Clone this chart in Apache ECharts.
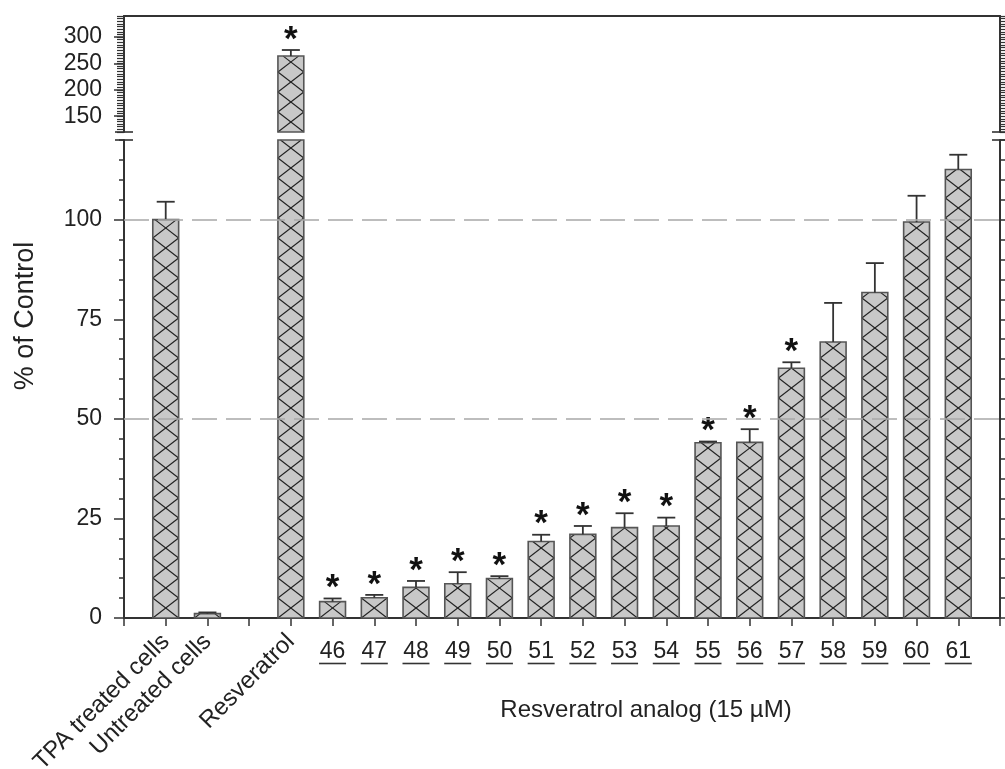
<!DOCTYPE html>
<html>
<head>
<meta charset="utf-8">
<script src="https://cdn.jsdelivr.net/npm/echarts@6/dist/echarts.min.js"></script>
<style>
html,body{margin:0;padding:0;background:#fff;}
#chart{width:1005px;height:769px;}
</style>
</head>
<body>
<div id="chart"></div>
<script>
// ---- data ----
const categories = ['', 'TPA treated cells', 'Untreated cells', '', 'Resveratrol',
  '46','47','48','49','50','51','52','53','54','55','56','57','58','59','60','61', ''];
const values = [null, 100, 1.1, null, 264,
  4.1, 5.1, 7.7, 8.6, 9.9, 19.2, 21.0, 22.7, 23.1, 44.0, 44.1, 62.7, 69.3, 81.7, 99.4, 112.6, null];
const errors = [null, 4.5, 0.3, null, 11.5,
  0.8, 0.7, 1.6, 2.9, 0.6, 1.7, 2.1, 3.6, 2.1, 0.3, 3.3, 1.5, 9.8, 7.4, 6.6, 3.7, null];
const significant = [0, 0, 0, 0, 1,
  1, 1, 1, 1, 1, 1, 1, 1, 1, 1, 1, 1, 0, 0, 0, 0, 0];
const lowerTickLabels = [0, 25, 50, 75, 100];
const upperTickLabels = [150, 200, 250, 300];
const refLines = [50, 100];
const lowerRange = [0, 120];
const upperRange = [120, 340];
const yTitle = '% of Control';
const xTitle = 'Resveratrol analog (15 \u00b5M)';

// ---- style / layout ----
const FONT = '"Liberation Sans", Arial, Helvetica, sans-serif';
const TXT = '#222';
const AX = '#333';
const GRID_LEFT = 124, GRID_RIGHT = 5;
const UP_TOP = 16, UP_H = 116;
const LO_TOP = 140, LO_BOTTOM = 151;
const BAR_RATIO = 0.62;
const HATCH_P = 20;

const seriesData = [];
for (let i = 0; i < categories.length; i++) {
  if (values[i] != null) seriesData.push([i, values[i], errors[i], significant[i]]);
}

function clipSeg(ax, ay, bx, by, vmin, vmax) {
  let t0 = 0, t1 = 1;
  const dv = by - ay;
  if (Math.abs(dv) < 1e-9) {
    if (ay < vmin || ay > vmax) return null;
  } else {
    let ta = (vmin - ay) / dv, tb = (vmax - ay) / dv;
    if (ta > tb) { const t = ta; ta = tb; tb = t; }
    t0 = Math.max(t0, ta); t1 = Math.min(t1, tb);
    if (t0 >= t1) return null;
  }
  return [ax + (bx - ax) * t0, ay + dv * t0, ax + (bx - ax) * t1, ay + dv * t1];
}

function makeRender(yMin, yMax) {
  return function (params, api) {
    const idx = api.value(0), v = api.value(1), e = api.value(2), s = api.value(3);
    if (v == null || isNaN(v) || v <= yMin) return;
    const top = Math.min(v, yMax);
    const pTop = api.coord([idx, top]);
    const pBot = api.coord([idx, yMin]);
    const bw = api.size([1, 0])[0] * BAR_RATIO;
    const cx = pTop[0];
    const x0 = cx - bw / 2;
    const H = pBot[1] - pTop[1];
    const children = [];
    children.push({
      type: 'rect',
      shape: { x: x0, y: pTop[1], width: bw, height: H },
      style: { fill: '#c8c8c8', stroke: 'none' }
    });
    const P = HATCH_P;
    const phase = P / 2;
    for (let k = -1; k * P + phase - P < H + P; k++) {
      const c = k * P + phase;
      for (const sg of [1, -1]) {
        const seg = clipSeg(-bw / 2, c - sg * P / 2, bw / 2, c + sg * P / 2, 0, H);
        if (!seg) continue;
        children.push({
          type: 'line',
          shape: { x1: cx + seg[0], y1: pBot[1] - seg[1], x2: cx + seg[2], y2: pBot[1] - seg[3] },
          style: { stroke: '#222', lineWidth: 1.1 }
        });
      }
    }
    children.push({
      type: 'rect',
      shape: { x: x0, y: pTop[1], width: bw, height: H },
      style: { fill: 'none', stroke: '#555', lineWidth: 1.6 }
    });
    if (v <= yMax && e != null && v + e <= yMax) {
      const pErr = api.coord([idx, v + e]);
      if (pTop[1] - pErr[1] > 0.5) {
        children.push({
          type: 'line',
          shape: { x1: cx, y1: pTop[1], x2: cx, y2: pErr[1] },
          style: { stroke: AX, lineWidth: 1.8 }
        });
      }
      children.push({
        type: 'line',
        shape: { x1: cx - 9, y1: pErr[1], x2: cx + 9, y2: pErr[1] },
        style: { stroke: AX, lineWidth: 1.8 }
      });
      if (s) {
        children.push({
          type: 'text',
          style: {
            text: '*', x: cx, y: pErr[1] - 10, align: 'center', verticalAlign: 'middle',
            font: 'bold 35px ' + FONT, fill: '#111'
          }
        });
      }
    }
    return { type: 'group', children: children };
  };
}

const chart = echarts.init(document.getElementById('chart'), null, { renderer: 'canvas' });

const baseY = (gridIndex, range) => ({
  type: 'value', gridIndex: gridIndex, min: range[0], max: range[1], interval: 5,
  splitLine: { show: false }
});

const option = {
  animation: false,
  backgroundColor: '#fff',
  grid: [
    { left: GRID_LEFT, right: GRID_RIGHT, top: LO_TOP, bottom: LO_BOTTOM, containLabel: false, outerBoundsMode: 'none' },
    { left: GRID_LEFT, right: GRID_RIGHT, top: UP_TOP, height: UP_H, containLabel: false, outerBoundsMode: 'none' }
  ],
  xAxis: [
    {
      type: 'category', gridIndex: 0, data: categories, boundaryGap: false, position: 'bottom',
      axisLine: { show: true, lineStyle: { color: AX, width: 2 } },
      axisTick: { show: true, interval: 0, length: 8, lineStyle: { color: AX, width: 1.5 } },
      axisLabel: {
        interval: 0, rotate: 45, margin: 20, color: TXT, fontFamily: FONT, fontSize: 24,
        formatter: (val) => (/^\d+$/.test(val) ? '' : val)
      },
      splitLine: { show: false }
    },
    {
      type: 'category', gridIndex: 0, data: categories, boundaryGap: false, position: 'bottom', offset: 0,
      axisLine: { show: false }, axisTick: { show: false },
      axisLabel: {
        interval: 0, rotate: 0, margin: 23,
        formatter: (val) => (/^\d+$/.test(val) ? '{n|' + val + '}\n{u|}' : ''),
        rich: {
          n: { fontFamily: FONT, fontSize: 23, color: TXT, lineHeight: 21 },
          u: { width: 27, height: 1.6, lineHeight: 3, backgroundColor: AX }
        }
      },
      splitLine: { show: false }
    },
    {
      type: 'category', gridIndex: 1, data: categories, boundaryGap: false, position: 'top',
      axisLine: { show: true, lineStyle: { color: AX, width: 2 } },
      axisTick: { show: false }, axisLabel: { show: false }, splitLine: { show: false }
    }
  ],
  yAxis: [
    Object.assign(baseY(0, lowerRange), {
      position: 'left',
      axisLine: { show: true, lineStyle: { color: AX, width: 2 } },
      axisTick: { show: true, length: 5, lineStyle: { color: AX, width: 1.5 } },
      axisLabel: { show: false }
    }),
    Object.assign(baseY(0, lowerRange), {
      position: 'left', offset: 0,
      axisLine: { show: false },
      axisTick: { show: true, length: 10, customValues: lowerTickLabels, lineStyle: { color: AX, width: 1.5 } },
      axisLabel: { show: true, customValues: lowerTickLabels, margin: 22, color: TXT, fontFamily: FONT, fontSize: 23 }
    }),
    Object.assign(baseY(0, lowerRange), {
      position: 'right',
      axisLine: { show: true, lineStyle: { color: AX, width: 2 } },
      axisTick: { show: true, length: 6, lineStyle: { color: AX, width: 1.5 } },
      axisLabel: { show: false }
    }),
    Object.assign(baseY(1, upperRange), {
      position: 'left',
      axisLine: { show: true, lineStyle: { color: AX, width: 2 } },
      axisTick: { show: true, length: 7, lineStyle: { color: AX, width: 1.2 } },
      axisLabel: { show: false }
    }),
    Object.assign(baseY(1, upperRange), {
      position: 'left', offset: 0,
      axisLine: { show: false },
      axisTick: { show: true, length: 10, customValues: upperTickLabels, lineStyle: { color: AX, width: 1.5 } },
      axisLabel: { show: true, customValues: upperTickLabels, margin: 22, color: TXT, fontFamily: FONT, fontSize: 23 }
    }),
    Object.assign(baseY(1, upperRange), {
      position: 'right',
      axisLine: { show: true, lineStyle: { color: AX, width: 2 } },
      axisTick: { show: true, length: 7, lineStyle: { color: AX, width: 1.2 } },
      axisLabel: { show: false }
    })
  ],
  series: [
    {
      type: 'custom', xAxisIndex: 0, yAxisIndex: 0, data: seriesData,
      encode: { x: 0, y: 1 }, renderItem: makeRender(lowerRange[0], lowerRange[1]), z: 2
    },
    {
      type: 'custom', xAxisIndex: 2, yAxisIndex: 3, data: seriesData,
      encode: { x: 0, y: 1 }, renderItem: makeRender(upperRange[0], upperRange[1]), z: 2
    },
    {
      type: 'line', xAxisIndex: 0, yAxisIndex: 0, data: [], z: 5, silent: true,
      markLine: {
        silent: true, symbol: 'none', animation: false,
        label: { show: false },
        lineStyle: { color: '#a8a8a8', width: 1.5, type: [25, 9] },
        data: refLines.map(v => ({ yAxis: v }))
      }
    }
  ],
  graphic: []
};

chart.setOption(option);

const loTopY = chart.convertToPixel({ yAxisIndex: 0 }, lowerRange[1]);
const upBotY = chart.convertToPixel({ yAxisIndex: 3 }, upperRange[0]);
const leftX = chart.convertToPixel({ xAxisIndex: 0 }, 0);
const rightX = chart.convertToPixel({ xAxisIndex: 0 }, categories.length - 1);
const brk = (x1, x2, y) => ({ type: 'line', shape: { x1, y1: y, x2, y2: y }, style: { stroke: AX, lineWidth: 1.6 }, z: 10 });
chart.setOption({
  graphic: [
    brk(leftX - 9, leftX + 9, loTopY), brk(leftX - 9, leftX + 9, upBotY),
    brk(rightX - 8, rightX + 9, loTopY), brk(rightX - 8, rightX + 9, upBotY),
    {
      type: 'text', x: 26, y: 316, rotation: Math.PI / 2,
      style: { text: yTitle, font: '27px ' + FONT, fill: TXT, align: 'center', verticalAlign: 'middle' }
    },
    {
      type: 'text', x: 646, y: 710,
      style: { text: xTitle, font: '24px ' + FONT, fill: TXT, align: 'center', verticalAlign: 'middle' }
    }
  ]
});
</script>
</body>
</html>
